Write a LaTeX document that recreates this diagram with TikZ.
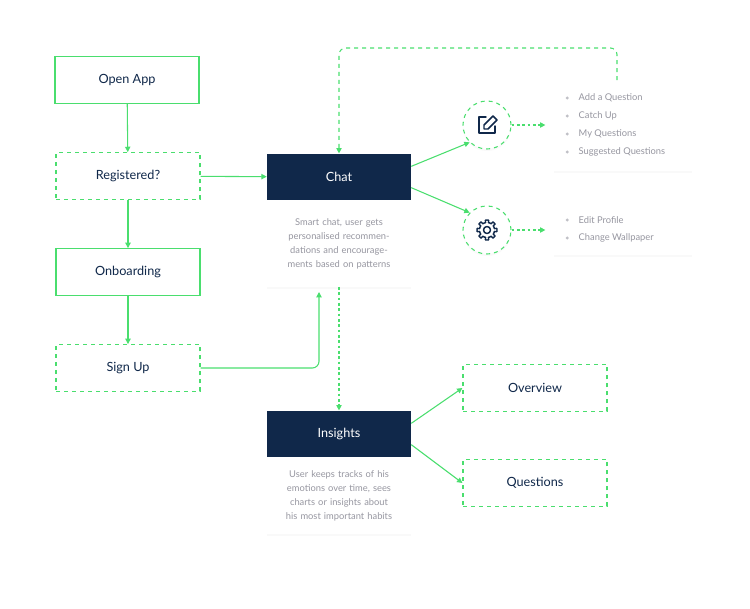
\documentclass[tikz,border=0pt]{standalone}
\usepackage{fontspec}
\setmainfont{Lato}
\usetikzlibrary{shadows,arrows.meta}
\definecolor{flowgreen}{RGB}{74,222,110}
\definecolor{navy}{RGB}{16,40,74}
\definecolor{greytext}{RGB}{150,150,160}
\tikzset{
  x=0.75pt,y=-0.75pt,
  soft/.style={drop shadow={opacity=0.05,shadow xshift=0pt,shadow yshift=-1.5pt}},
  stepbox/.style={draw=flowgreen,line width=0.9pt,fill=white,minimum width=108pt,minimum height=35pt,text=navy,font=\fontsize{9.5}{11}\selectfont},
  dstepbox/.style={stepbox,dashed},
  head/.style={fill=navy,minimum width=108pt,minimum height=35pt,text=white,font=\fontsize{9.5}{11}\selectfont},
  body/.style={fill=white,minimum width=108pt,text width=90pt,align=center,text=greytext,font=\fontsize{7}{10.5}\selectfont,soft},
  card/.style={fill=white,soft,inner sep=0pt},
  icon/.style={circle,draw=flowgreen,dashed,line width=0.8pt,fill=white,minimum size=36pt,soft},
  item/.style={anchor=west,text=greytext,font=\fontsize{7}{8}\selectfont},
  flow/.style={draw=flowgreen,line width=0.8pt,-{Triangle[length=4pt,width=4pt]}},
  dflow/.style={flow,dashed},
  dots/.style={flow,dash pattern=on 2pt off 2pt},
}
\begin{document}
\begin{tikzpicture}
\useasboundingbox (0,0) rectangle (750,608);

% left column
\node[stepbox]  (open)  at (127,80)  {Open App};
\node[dstepbox] (reg)   at (128,176) {Registered?};
\node[stepbox]  (onb)   at (128,272) {Onboarding};
\node[dstepbox] (sign)  at (128,368) {Sign Up};

% chat
\node[body,minimum height=64pt] (chatbody) at (339,244) {Smart chat, user gets personalised recommendations and encouragements based on patterns};
\node[head] (chat) at (339,177) {Chat};

% insights
\node[body,minimum height=57pt] (insbody) at (339,496) {User keeps tracks of his emotions over time, sees charts or insights about his most important habits};
\node[head] (ins) at (339,434) {Insights};

% icons
\node[icon] (edit) at (487,125) {};
\node[icon] (gear) at (487,230) {};
% pencil
\begin{scope}[shift={(edit.center)},navy,line width=1.1pt,line cap=round,line join=round]
  \draw (-1,-8) -- (-8,-8) -- (-8,8) -- (8,8) -- (8,1);
  \draw (-3,4) -- (-3,0) -- (6,-9) -- (10,-5) -- (1,4) -- cycle;
\end{scope}
% gear
\begin{scope}[shift={(gear.center)},navy,line width=1.1pt,line join=round]
  \draw (0,0) circle (3.5);
  \draw plot[domain=0:360,samples=161] (\x:{7.5+2.5*(cos(8*\x)>0.2?1:0)}) -- cycle;
\end{scope}

% cards
\node[card,minimum width=104pt,minimum height=64pt] (card1) at (623,128) {};
\node[card,minimum width=104pt,minimum height=38pt] (card2) at (623,230) {};
\foreach \t [count=\i] in {Add a Question,Catch Up,My Questions,Suggested Questions}
  \node[item] (q\i) at (574,80+\i*18) {\t};
\foreach \i in {1,...,4} \fill[greytext!60] ([xshift=-5pt]q\i.west) circle (1.2pt);
\foreach \t [count=\i] in {Edit Profile,Change Wallpaper}
  \node[item] (p\i) at (574,202+\i*18) {\t};
\foreach \i in {1,2} \fill[greytext!60] ([xshift=-5pt]p\i.west) circle (1.2pt);

% right boxes
\node[dstepbox] (over) at (535,388) {Overview};
\node[dstepbox] (ques) at (535,483) {Questions};

% connectors
\draw[flow] (open) -- (reg);
\draw[flow] (reg) -- (onb);
\draw[flow] (onb) -- (sign);
\draw[flow] (reg) -- (chat);
\coordinate (up) at (319,292);
\draw[flow,rounded corners=5pt] (sign.east) -- (319,368) -- (up);
\draw[flow] ([yshift=8pt]chat.east) -- (edit.south west);
\draw[flow] ([yshift=-8pt]chat.east) -- (gear.north west);
\draw[dots] (edit) -- ([xshift=-6pt]card1.west |- edit);
\draw[dots] (gear) -- ([xshift=-6pt]card2.west |- gear);
\coordinate (loop) at (617,80);
\draw[dflow,rounded corners=5pt] (loop) -- (617,48) -- (339,48) -- (chat.north);
\draw[dots] (chatbody.south) -- (ins.north);
\draw[flow] ([yshift=8pt]ins.east) -- (over.west);
\draw[flow] ([yshift=-8pt]ins.east) -- (ques.west);
\end{tikzpicture}
\end{document}
